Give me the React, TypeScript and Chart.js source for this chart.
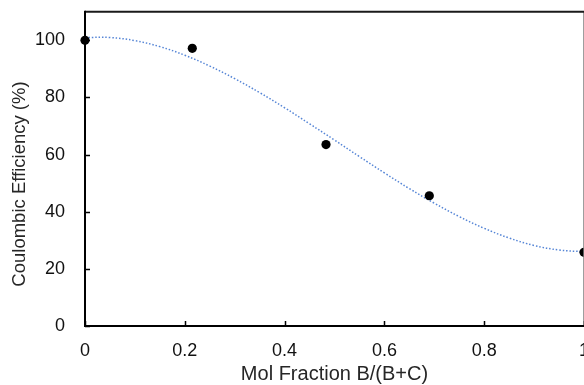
import React, { useEffect, useRef } from "react";
import { Chart, registerables } from "chart.js";

Chart.register(...registerables);

// Measured samples
const molFraction = [0, 0.215, 0.483, 0.69, 1.0];
const efficiency = [100, 97.2, 63.5, 45.6, 25.8];

// Polynomial trendline, sampled along the curve
const trendX = [0, 0.05, 0.1, 0.15, 0.2, 0.25, 0.3, 0.35, 0.4, 0.45, 0.5, 0.55, 0.6, 0.65, 0.7, 0.75, 0.8, 0.85, 0.9, 0.95, 1.0];
const trendY = [101.0, 101.0, 99.9, 97.8, 94.8, 91.0, 86.6, 81.7, 76.4, 70.8, 65.1, 59.3, 53.6, 48.1, 43.0, 38.3, 34.2, 30.8, 28.2, 26.6, 26.0];

const xTicks = [0, 0.2, 0.4, 0.6, 0.8, 1];
const yTicks = [0, 20, 40, 60, 80, 100];

const X_TITLE = "Mol Fraction B/(B+C)";
const Y_TITLE = "Coulombic Efficiency (%)";

const FONT = "'Liberation Sans', Arial, sans-serif";

const CANVAS_W = 595;
const CANVAS_H = 396;
const CANVAS_TOP = -11;

// Plot frame, inward tick marks and the rotated y title
const framePlugin = {
  id: "frame",
  afterDraw(chart: any) {
    const { ctx, chartArea, scales } = chart;
    const { left, right, top, bottom } = chartArea;
    ctx.save();
    ctx.lineCap = "butt";
    // right border (light)
    ctx.strokeStyle = "#7f7f7f";
    ctx.lineWidth = 1.5;
    ctx.beginPath();
    ctx.moveTo(right, top);
    ctx.lineTo(right, bottom);
    ctx.stroke();
    // top border
    ctx.strokeStyle = "#1a1a1a";
    ctx.lineWidth = 2;
    ctx.beginPath();
    ctx.moveTo(left, top);
    ctx.lineTo(right + 1, top);
    ctx.stroke();
    // axes
    ctx.strokeStyle = "#000";
    ctx.lineWidth = 2;
    ctx.beginPath();
    ctx.moveTo(left, top - 1);
    ctx.lineTo(left, bottom);
    ctx.lineTo(right + 1, bottom);
    ctx.stroke();
    // inward ticks
    ctx.lineWidth = 1.5;
    ctx.beginPath();
    for (const v of xTicks) {
      const px = Math.round(scales.x.getPixelForValue(v)) + 0.5;
      ctx.moveTo(px, bottom);
      ctx.lineTo(px, bottom - 5);
    }
    for (const v of yTicks) {
      const py = Math.round(scales.y.getPixelForValue(v)) + 0.5;
      ctx.moveTo(left, py);
      ctx.lineTo(left + 5, py);
    }
    ctx.stroke();
    // y axis title
    ctx.fillStyle = "#262626";
    ctx.font = `18.5px ${FONT}`;
    ctx.textAlign = "center";
    ctx.textBaseline = "middle";
    ctx.translate(20, 184 - CANVAS_TOP);
    ctx.rotate(-Math.PI / 2);
    ctx.fillText(Y_TITLE, 0, 0);
    ctx.restore();
  },
};

export default function App() {
  const canvasRef = useRef<HTMLCanvasElement | null>(null);

  useEffect(() => {
    const canvas = canvasRef.current;
    if (!canvas) return;
    const chart = new Chart(canvas, {
      type: "scatter",
      data: {
        datasets: [
          {
            label: "Measured",
            data: molFraction.map((x, i) => ({ x, y: efficiency[i] })),
            backgroundColor: "#000",
            borderColor: "#000",
            borderWidth: 0,
            pointRadius: 4.6,
            pointHoverRadius: 4.6,
            showLine: false,
            clip: false,
          },
          {
            label: "Trend",
            data: trendX.map((x, i) => ({ x, y: trendY[i] })),
            showLine: true,
            borderColor: "#5585d6",
            borderWidth: 1.5,
            borderDash: [1.5, 1.9],
            pointRadius: 0,
            tension: 0.4,
            fill: false,
          },
        ],
      },
      options: {
        animation: false,
        responsive: false,
        devicePixelRatio: 1,
        layout: { autoPadding: false, padding: { top: -6, right: -14, left: 0, bottom: 0 } },
        plugins: {
          legend: { display: false },
          tooltip: { enabled: false },
          title: { display: false },
        },
        scales: {
          x: {
            type: "linear",
            min: 0,
            max: 1,
            grid: { display: false },
            border: { display: false },
            afterBuildTicks: (scale: any) => {
              scale.ticks = xTicks.map((v) => ({ value: v }));
            },
            afterFit: (scale: any) => {
              scale.height = 59;
            },
            ticks: {
              padding: 6,
              maxRotation: 0,
              color: "#111",
              font: { family: FONT, size: 18 },
              callback: (v: any) => String(v),
            },
            title: {
              display: true,
              text: X_TITLE,
              color: "#262626",
              font: { family: FONT, size: 20 },
              padding: { top: 0, bottom: -1 },
            },
          },
          y: {
            type: "linear",
            min: 0,
            max: 110,
            grid: { display: false },
            border: { display: false },
            afterBuildTicks: (scale: any) => {
              scale.ticks = yTicks.map((v) => ({ value: v }));
            },
            afterFit: (scale: any) => {
              scale.width = 85;
            },
            ticks: {
              padding: 12,
              color: "#111",
              font: { family: FONT, size: 18 },
            },
          },
        },
      },
      plugins: [framePlugin],
    });
    return () => chart.destroy();
  }, []);

  return (
    <div style={{ position: "fixed", left: 0, top: 0, width: 584, height: 385, overflow: "hidden", background: "#fff" }}>
      <canvas
        ref={canvasRef}
        width={CANVAS_W}
        height={CANVAS_H}
        style={{ position: "absolute", left: 0, top: CANVAS_TOP }}
      />
    </div>
  );
}
